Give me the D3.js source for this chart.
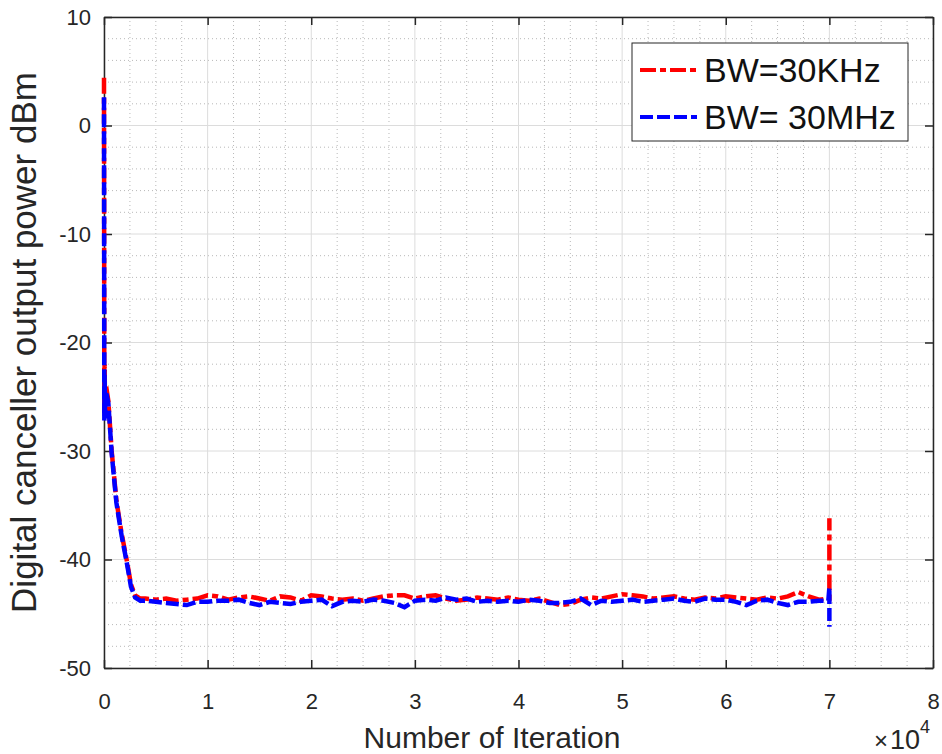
<!DOCTYPE html>
<html>
<head>
<meta charset="utf-8">
<script src="https://cdn.jsdelivr.net/npm/d3@7"></script>
<style>
  body { margin: 0; background: #fff; }
  svg { font-family: "Liberation Sans", Arial, sans-serif; }
</style>
</head>
<body>
<div id="chart"></div>
<script>
// iteration samples: start transient, then every 1000 iterations, then the end spike
const startIter = [0, 30, 60, 100, 200, 420, 740, 1200, 1700, 2200, 2600, 3000, 3500];
const plateauIter = d3.range(4000, 70000, 1000);
const endIter = [69900, 70000, 70000];

const redStart = [4.4, -26.5, -22, -26, -24, -25.4, -30, -34.6, -37.6, -40.1, -42.3, -43.3, -43.6];
const blueStart = [2.6, -27.2, -23, -27, -24.5, -25.6, -30.2, -34.8, -37.8, -40.3, -42.5, -43.5, -43.8];

const redPlateau = [
  -43.6, -43.7, -43.6, -43.8, -43.7, -43.6, -43.3, -43.4, -43.7, -43.5,
  -43.4, -43.6, -43.8, -43.4, -43.5, -43.8, -43.3, -43.4, -43.6, -43.7,
  -43.6, -43.8, -43.6, -43.4, -43.3, -43.3, -43.6, -43.4, -43.3, -43.6,
  -43.8, -43.7, -43.5, -43.6, -43.7, -43.5, -43.7, -43.8, -43.6, -43.9,
  -44.2, -44.1, -43.7, -43.5, -43.6, -43.4, -43.2, -43.3, -43.4, -43.6,
  -43.5, -43.4, -43.6, -43.7, -43.5, -43.6, -43.4, -43.5, -43.6, -43.7,
  -43.5, -43.6, -43.4, -43.0, -43.4, -43.7
];
const bluePlateau = [
  -43.8, -43.9, -44.0, -44.1, -44.2, -43.9, -43.9, -43.8, -43.8, -43.7,
  -44.0, -44.2, -43.9, -44.0, -44.1, -43.9, -43.8, -43.7, -44.3, -43.9,
  -43.8, -43.9, -43.7, -43.8, -44.0, -44.4, -43.8, -43.7, -43.8, -43.5,
  -43.7, -43.6, -43.9, -43.8, -43.9, -43.8, -43.9, -43.7, -43.8, -44.0,
  -44.0, -43.9, -43.6, -44.2, -43.8, -43.9, -43.8, -43.7, -43.9, -43.8,
  -43.7, -43.6, -43.8, -43.9, -43.6, -43.7, -43.7, -43.9, -44.2, -43.8,
  -43.7, -44.0, -44.2, -43.9, -43.9, -43.8
];
const redEnd = [-43.6, -43.6, -36.2];
const blueEnd = [-43.8, -42.6, -46.2];

const xTicks = [0, 1, 2, 3, 4, 5, 6, 7, 8];
const yTicks = [-50, -40, -30, -20, -10, 0, 10];
const seriesNames = ["BW=30KHz", "BW=\u00a030MHz"];
const seriesColors = ["#ff0000", "#0000ff"];
const seriesDash = ["16,4,6,4", "13,4"];

const W = 942, H = 754;
const margin = {left: 104, right: 9, top: 17, bottom: 86};
const iw = W - margin.left - margin.right;
const ih = H - margin.top - margin.bottom;

const iterations = startIter.concat(plateauIter, endIter);
const series = [
  redStart.concat(redPlateau, redEnd),
  blueStart.concat(bluePlateau, blueEnd)
].map((vals, k) => ({
  name: seriesNames[k],
  color: seriesColors[k],
  dash: seriesDash[k],
  values: vals.map((v, i) => ({it: iterations[i] / 1e4, v: v}))
}));

const x = d3.scaleLinear().domain([0, 8]).range([0, iw]);
const y = d3.scaleLinear().domain([-50, 10]).range([ih, 0]);

const svg = d3.select("#chart").append("svg")
  .attr("width", W).attr("height", H);
const g = svg.append("g")
  .attr("transform", "translate(" + margin.left + "," + margin.top + ")");

// minor grid (dotted)
const xMinor = d3.range(0, 8.001, 0.25).filter(t => Math.abs(t - Math.round(t)) > 1e-6);
const yMinor = d3.range(-50, 10.001, 2).filter(t => t % 10 !== 0);
g.append("g").selectAll("line").data(xMinor).enter().append("line")
  .attr("x1", d => x(d)).attr("x2", d => x(d)).attr("y1", 0).attr("y2", ih)
  .attr("stroke", "#b8b8b8").attr("stroke-width", 1).attr("stroke-dasharray", "1,3");
g.append("g").selectAll("line").data(yMinor).enter().append("line")
  .attr("y1", d => y(d)).attr("y2", d => y(d)).attr("x1", 0).attr("x2", iw)
  .attr("stroke", "#b8b8b8").attr("stroke-width", 1).attr("stroke-dasharray", "1,3");

// major grid
g.append("g").selectAll("line").data(xTicks).enter().append("line")
  .attr("x1", d => x(d)).attr("x2", d => x(d)).attr("y1", 0).attr("y2", ih)
  .attr("stroke", "#dcdcdc").attr("stroke-width", 1);
g.append("g").selectAll("line").data(yTicks).enter().append("line")
  .attr("y1", d => y(d)).attr("y2", d => y(d)).attr("x1", 0).attr("x2", iw)
  .attr("stroke", "#dcdcdc").attr("stroke-width", 1);

// axes: inward ticks on all four sides
const tickLen = 8;
const axisColor = "#262626";
const fmt = d => String(d);
g.append("g").attr("transform", "translate(0," + ih + ")")
  .call(d3.axisBottom(x).tickValues(xTicks).tickFormat(fmt).tickSizeInner(-tickLen).tickSizeOuter(0).tickPadding(25))
  .call(a => a.select(".domain").attr("stroke", axisColor).attr("stroke-width", 1.5));
g.append("g")
  .call(d3.axisTop(x).tickValues(xTicks).tickSizeInner(-tickLen).tickSizeOuter(0).tickFormat(""))
  .call(a => a.select(".domain").attr("stroke", axisColor).attr("stroke-width", 1.5));
g.append("g")
  .call(d3.axisLeft(y).tickValues(yTicks).tickFormat(fmt).tickSizeInner(-tickLen).tickSizeOuter(0).tickPadding(13))
  .call(a => a.select(".domain").attr("stroke", axisColor).attr("stroke-width", 1.5));
g.append("g").attr("transform", "translate(" + iw + ",0)")
  .call(d3.axisRight(y).tickValues(yTicks).tickSizeInner(-tickLen).tickSizeOuter(0).tickFormat(""))
  .call(a => a.select(".domain").attr("stroke", axisColor).attr("stroke-width", 1.5));

g.selectAll(".tick line").attr("stroke", axisColor).attr("stroke-width", 1.5);
g.selectAll(".tick text")
  .attr("font-family", "Liberation Sans, Arial, sans-serif")
  .attr("font-size", "22px")
  .attr("fill", "#262626");

// data lines, drawn over the axes (the start spike sits on the y axis)
svg.append("clipPath").attr("id", "clip").append("rect")
  .attr("x", -5).attr("width", iw + 5).attr("height", ih);
const line = d3.line().x(d => x(d.it)).y(d => y(d.v));
g.append("g").attr("clip-path", "url(#clip)")
  .selectAll("path").data(series).enter().append("path")
  .attr("fill", "none")
  .attr("stroke", d => d.color)
  .attr("stroke-width", 4.5)
  .attr("stroke-dasharray", d => d.dash)
  .attr("d", d => line(d.values));

// axis labels
svg.append("text")
  .attr("x", 492).attr("y", 748)
  .attr("text-anchor", "middle")
  .attr("font-size", "30px").attr("fill", "#262626")
  .text("Number of Iteration");
svg.append("text")
  .attr("transform", "translate(36," + (margin.top + ih / 2) + ") rotate(-90)")
  .attr("text-anchor", "middle")
  .attr("font-size", "35px").attr("fill", "#262626")
  .text("Digital canceller output power dBm");

// exponent label
const expo = svg.append("text")
  .attr("x", 874).attr("y", 749)
  .attr("font-size", "27px").attr("fill", "#262626");
expo.append("tspan").attr("font-size", "24px").text("\u00d7");
expo.append("tspan").attr("dx", 2).text("10");
expo.append("tspan").attr("dy", -16).attr("font-size", "18px").text("4");

// legend
const lg = svg.append("g").attr("transform", "translate(632,43)");
lg.append("rect").attr("width", 276).attr("height", 98)
  .attr("fill", "#fff").attr("stroke", "#262626").attr("stroke-width", 1);
series.forEach((s, i) => {
  const cy = 27 + i * 47;
  lg.append("line")
    .attr("x1", 8).attr("x2", 65).attr("y1", cy).attr("y2", cy)
    .attr("stroke", s.color).attr("stroke-width", 4)
    .attr("stroke-dasharray", s.dash);
  lg.append("text")
    .attr("x", 72).attr("y", cy + 12)
    .attr("font-size", "34px").attr("fill", "#111")
    .text(s.name);
});
</script>
</body>
</html>
